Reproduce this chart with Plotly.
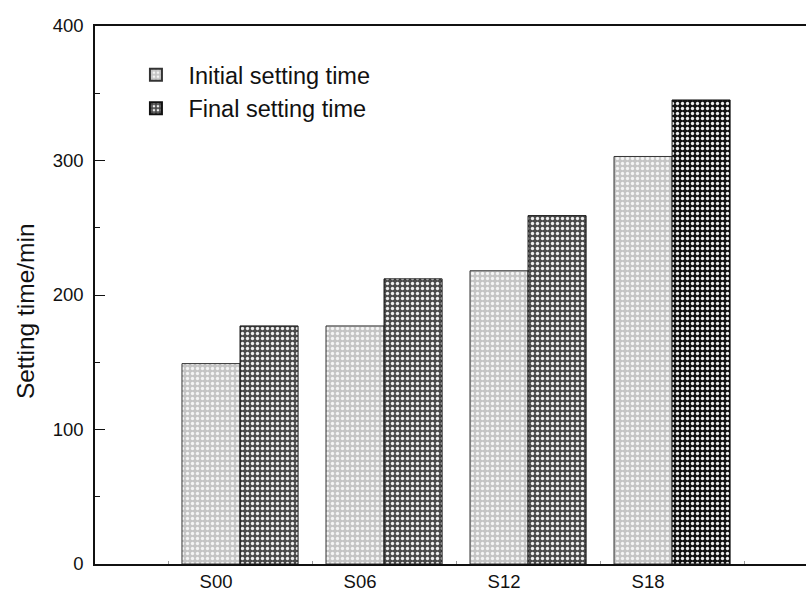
import plotly.graph_objects as go

categories = ["S00", "S06", "S12", "S18"]
initial_setting = [149, 177, 218, 303]
final_setting = [177, 212, 259, 345]
series_names = ["Initial setting time", "Final setting time"]
y_title = "Setting time/min"

FONT = "Liberation Sans, Arial, sans-serif"

fig = go.Figure()
fig.add_trace(go.Bar(
    x=categories, y=initial_setting, name=series_names[0],
    marker=dict(color="white", line=dict(color="#333333", width=1),
                pattern=dict(shape=".", fgcolor="#f4f4f4", bgcolor="#c4c4c4",
                             size=5, solidity=0.35, fillmode="replace")),
))
fig.add_trace(go.Bar(
    x=categories, y=final_setting, name=series_names[1],
    marker=dict(color="white", line=dict(color="#111111", width=1),
                pattern=dict(shape=".", fgcolor="#eeeeee",
                             bgcolor=["#4a4a4a", "#4a4a4a", "#4a4a4a", "#141414"],
                             size=5, solidity=0.35, fillmode="replace")),
))

fig.update_layout(
    width=806, height=595,
    margin=dict(l=95, r=0, t=26, b=31),
    paper_bgcolor="white", plot_bgcolor="white",
    barmode="group", bargap=0.194, bargroupgap=0,
    font=dict(family=FONT, size=18.5, color="#111111"),
    showlegend=True,
    legend=dict(x=0.04, y=0.95, xanchor="left", yanchor="top",
                bgcolor="rgba(0,0,0,0)", font=dict(size=23.5, family=FONT),
                tracegroupgap=0, itemwidth=55, itemsizing="constant"),
    annotations=[dict(text=y_title, textangle=-90, xref="paper", yref="paper",
                      x=-0.0985, y=0.47, xanchor="center", yanchor="middle",
                      showarrow=False, font=dict(size=24.5, family=FONT, color="#111111"))],
)
fig.update_xaxes(
    range=[-1.007, 3.93], showline=True, linecolor="#111111", linewidth=1.5,
    mirror=True, ticks="inside", ticklen=3, tickcolor="#999999",
    tickson="boundaries", showgrid=False, zeroline=False,
    tickfont=dict(size=18.5, family=FONT),
    ticklabelshift=-24,
)
fig.update_yaxes(
    range=[0, 400], tickvals=[0, 100, 200, 300, 400],
    showline=True, linecolor="#111111", linewidth=1.5,
    ticks="inside", ticklen=10, tickcolor="#111111", tickwidth=1,
    minor=dict(ticks="inside", ticklen=5, tickvals=[50, 150, 250, 350], tickcolor="#111111"),
    showgrid=False, zeroline=False,
    tickfont=dict(size=18.5, family=FONT),
    ticklabelstandoff=6,
)

fig.write_html("out.html")
